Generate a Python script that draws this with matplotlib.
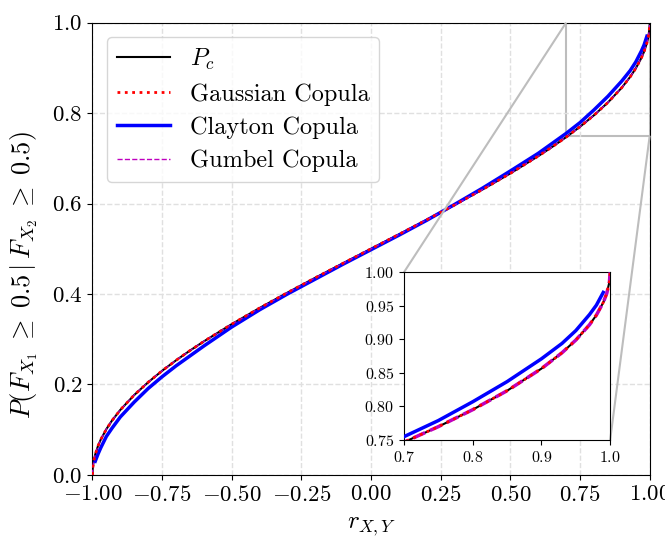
import matplotlib
matplotlib.use('Agg')
import matplotlib.pyplot as plt
from mpl_toolkits.axes_grid1.inset_locator import mark_inset

plt.rcParams['font.family'] = 'serif'
plt.rcParams['font.serif'] = ['cmr10']
plt.rcParams['mathtext.fontset'] = 'cm'
plt.rcParams['axes.formatter.use_mathtext'] = True

# values
r_vals = [-1.0, -0.999, -0.995, -0.99, -0.98, -0.97, -0.95, -0.93, -0.9, -0.85, -0.8, -0.75,
          -0.7, -0.65, -0.6, -0.5, -0.4, -0.3, -0.2, -0.1, 0.0, 0.1, 0.2, 0.3, 0.4, 0.5,
          0.6, 0.65, 0.7, 0.75, 0.8, 0.85, 0.9, 0.93, 0.95, 0.97, 0.98, 0.99, 0.995,
          0.999, 1.0]
pc_vals = [0.0, 0.0142, 0.0318, 0.0450, 0.0638, 0.0782, 0.1011, 0.1199, 0.1436, 0.1766,
           0.2048, 0.2301, 0.2532, 0.2748, 0.2952, 0.3333, 0.3690, 0.4030, 0.4359, 0.4681,
           0.5, 0.5319, 0.5641, 0.5970, 0.6310, 0.6667, 0.7048, 0.7252, 0.7468, 0.7699,
           0.7952, 0.8234, 0.8564, 0.8801, 0.8989, 0.9218, 0.9362, 0.9550, 0.9682, 0.9858,
           1.0]
gaussian_vals = [0.0, 0.0142, 0.0318, 0.0450, 0.0638, 0.0782, 0.1011, 0.1199, 0.1436, 0.1766,
                 0.2048, 0.2301, 0.2532, 0.2748, 0.2952, 0.3333, 0.3690, 0.4030, 0.4359,
                 0.4681, 0.5, 0.5319, 0.5641, 0.5970, 0.6310, 0.6667, 0.7048, 0.7252, 0.7468,
                 0.7699, 0.7952, 0.8234, 0.8564, 0.8801, 0.8989, 0.9218, 0.9362, 0.9550,
                 0.9682, 0.9858, 1.0]
gumbel_vals = [0.0, 0.0142, 0.0318, 0.0450, 0.0638, 0.0782, 0.1011, 0.1199, 0.1436, 0.1766,
               0.2048, 0.2301, 0.2532, 0.2748, 0.2952, 0.3333, 0.3690, 0.4030, 0.4359,
               0.4681, 0.5, 0.5319, 0.5641, 0.5970, 0.6310, 0.6667, 0.7048, 0.7252, 0.7468,
               0.7699, 0.7952, 0.8234, 0.8564, 0.8801, 0.8989, 0.9218, 0.9362, 0.9550,
               0.9682, 0.9858, 1.0]

r_clayton = [-0.99, -0.98, -0.97, -0.95, -0.93, -0.9, -0.85, -0.8, -0.75, -0.7, -0.6, -0.5,
             -0.4, -0.3, -0.2, -0.1, 0.0, 0.1, 0.2, 0.3, 0.4, 0.5, 0.6, 0.7, 0.75, 0.8,
             0.85, 0.9, 0.93, 0.95, 0.97, 0.98, 0.99]
clayton_vals = [0.030, 0.046, 0.060, 0.085, 0.103, 0.128, 0.161, 0.191, 0.217, 0.241, 0.285,
                0.327, 0.365, 0.400, 0.433, 0.466, 0.498, 0.530, 0.563, 0.598, 0.634, 0.672,
                0.711, 0.755, 0.779, 0.807, 0.837, 0.871, 0.894, 0.913, 0.937, 0.951, 0.970]

fig = plt.figure(figsize=(6.65, 5.39), dpi=100)
ax = fig.add_subplot(111)
fig.subplots_adjust(left=0.139, right=0.977, top=0.958, bottom=0.119)


def draw_curves(a, inset=False):
    a.plot(r_vals, pc_vals, 'k', lw=1.5, label='$P_c$', zorder=2)
    a.plot(r_vals, gaussian_vals, color='red', ls=':', lw=2, label='Gaussian Copula', zorder=4)
    a.plot(r_clayton, clayton_vals, color='blue', lw=2.5, label='Clayton Copula', zorder=3)
    a.plot(r_vals, gumbel_vals, color='m', ls='--', lw=2.5 if inset else 1,
           label='Gumbel Copula', zorder=3.5)


draw_curves(ax)
ax.set_xlim(-1, 1)
ax.set_ylim(0, 1)
ax.set_xticks([-1, -0.75, -0.5, -0.25, 0, 0.25, 0.5, 0.75, 1])
ax.set_xticklabels(['$-1.00$', '$-0.75$', '$-0.50$', '$-0.25$', '$0.00$', '$0.25$',
                    '$0.50$', '$0.75$', '$1.00$'])
ax.set_yticks([0, 0.2, 0.4, 0.6, 0.8, 1.0])
ax.set_yticklabels(['$0.0$', '$0.2$', '$0.4$', '$0.6$', '$0.8$', '$1.0$'])
ax.tick_params(labelsize=16.5)
ax.grid(True, ls='--', color='0.88', lw=1)
ax.set_xlabel('$r_{X,Y}$', fontsize=18, labelpad=8)
ax.set_ylabel(r'$P(F_{X_1}\;\geq\;0.5\,|\,F_{X_2}\;\geq\;0.5)$', fontsize=19)
ax.yaxis.set_label_coords(-0.094, 0.442)
ax.legend(loc='upper left', fontsize=17.5, handlelength=2.2, labelspacing=0.45,
          borderaxespad=0.6)

# zoomed inset
axins = ax.inset_axes([0.559, 0.077, 0.37, 0.371])
draw_curves(axins, inset=True)
axins.set_xlim(0.7, 1.0)
axins.set_ylim(0.75, 1.0)
axins.set_xticks([0.7, 0.8, 0.9, 1.0])
axins.set_xticklabels(['$0.7$', '$0.8$', '$0.9$', '$1.0$'])
axins.set_yticks([0.75, 0.8, 0.85, 0.9, 0.95, 1.0])
axins.set_yticklabels(['$0.75$', '$0.80$', '$0.85$', '$0.90$', '$0.95$', '$1.00$'])
axins.tick_params(labelsize=11.5)
mark_inset(ax, axins, loc1=2, loc2=4, fc='none', ec='0.74', lw=1.5)

plt.savefig('out.png', dpi=100)
